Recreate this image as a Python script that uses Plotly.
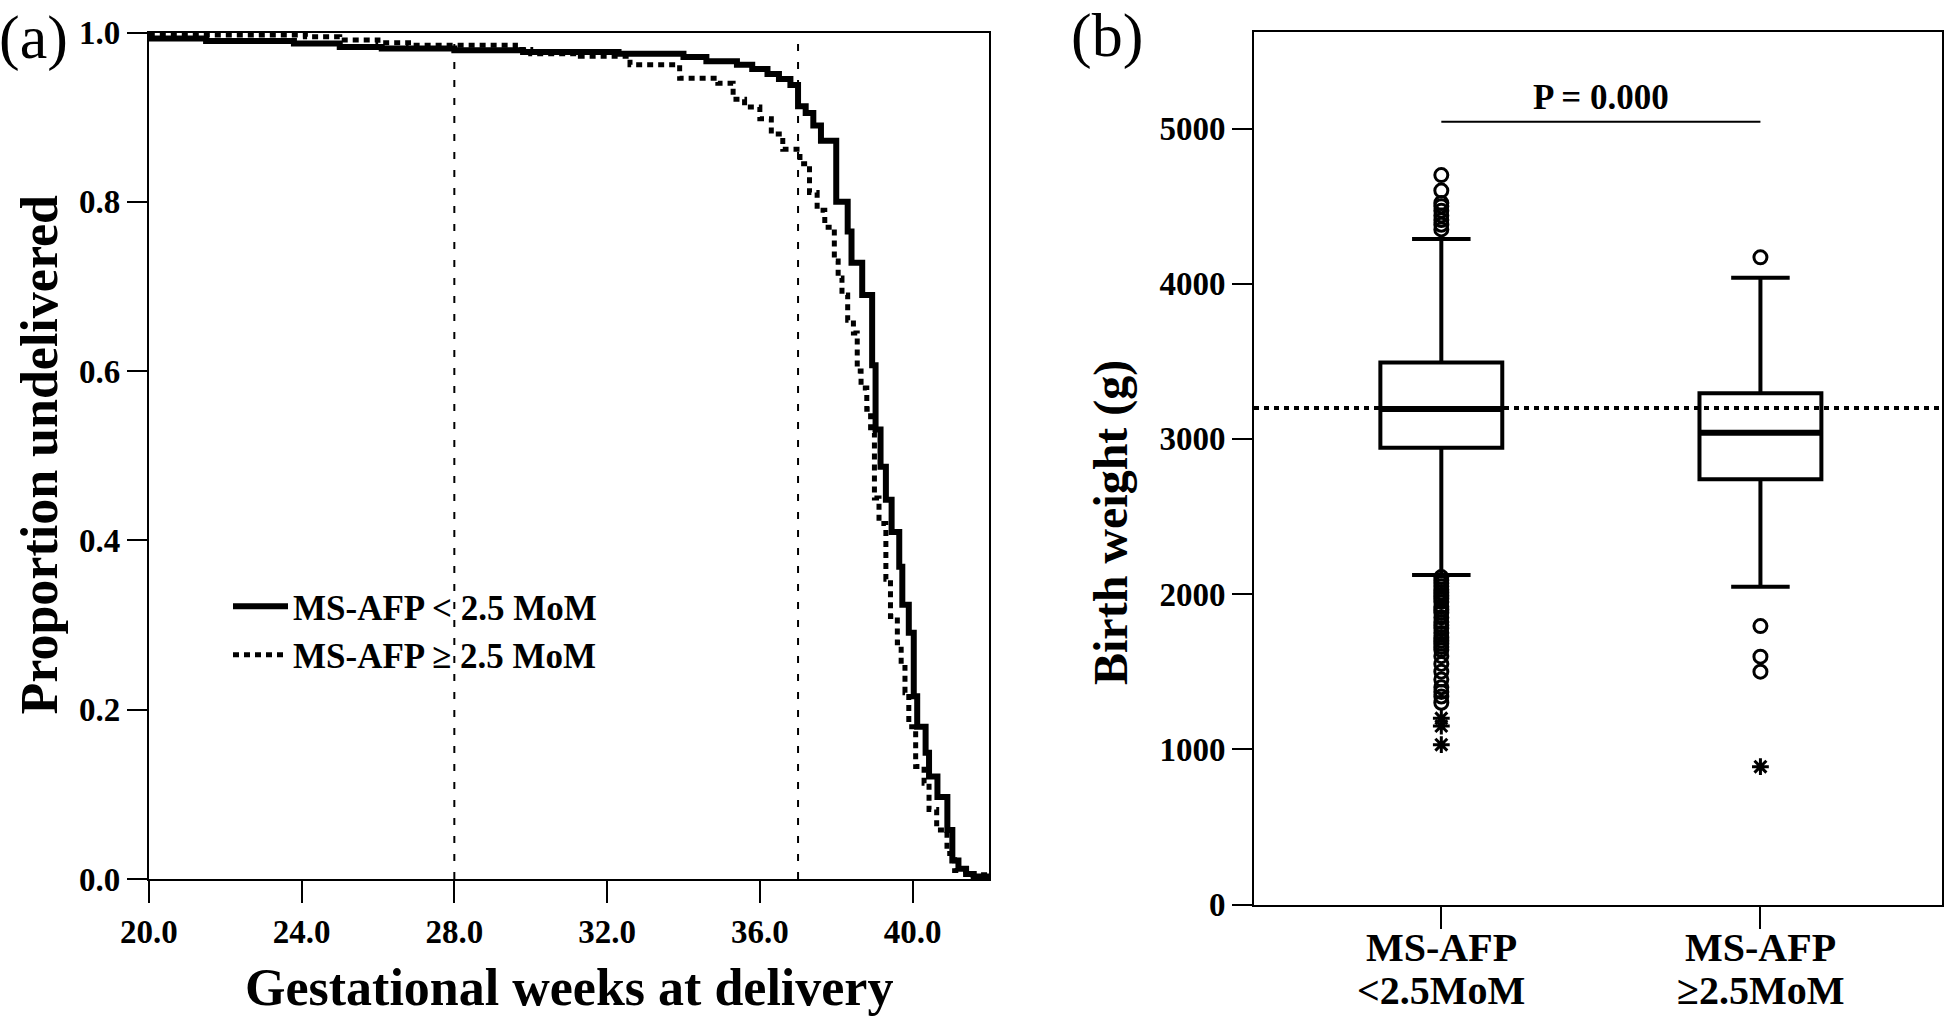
import plotly.graph_objects as go

# ---------------- Panel (a): Kaplan-Meier style curves ----------------
weeks_lt = [20.0, 21.5, 23.8, 25.0, 26.1, 28.0, 29.8, 32.3, 34.0, 34.6, 35.4, 35.8, 36.2, 36.5,
            36.8, 37.0, 37.2, 37.4, 37.6, 38.0, 38.3, 38.4, 38.68, 38.94, 39.03, 39.16, 39.3,
            39.45, 39.65, 39.73, 39.9, 40.03, 40.12, 40.34, 40.43, 40.65, 40.91, 41.04, 41.2,
            41.4, 41.6, 42.0]
surv_lt = [0.993, 0.990, 0.987, 0.983, 0.981, 0.979, 0.977, 0.975, 0.971, 0.966, 0.962, 0.957,
           0.951, 0.945, 0.938, 0.913, 0.905, 0.890, 0.872, 0.800, 0.765, 0.728, 0.690, 0.607,
           0.531, 0.487, 0.448, 0.410, 0.369, 0.324, 0.291, 0.216, 0.180, 0.149, 0.121, 0.097,
           0.058, 0.022, 0.012, 0.006, 0.003, 0.0]

weeks_ge = [20.0, 24.1, 25.0, 26.0, 26.8, 29.6, 30.0, 31.3, 32.6, 33.9, 34.9, 35.3, 35.6, 36.0,
            36.3, 36.6, 37.05, 37.3, 37.5, 37.7, 37.95, 38.05, 38.15, 38.3, 38.45, 38.55, 38.65,
            38.8, 38.9, 39.0, 39.12, 39.3, 39.42, 39.6, 39.7, 39.8, 39.9, 40.08, 40.3, 40.43,
            40.63, 40.9, 41.1, 41.4, 42.0]
surv_ge = [0.997, 0.995, 0.991, 0.988, 0.985, 0.980, 0.975, 0.972, 0.962, 0.946, 0.940, 0.921,
           0.912, 0.898, 0.880, 0.862, 0.845, 0.811, 0.790, 0.770, 0.730, 0.710, 0.690, 0.660,
           0.645, 0.600, 0.580, 0.555, 0.527, 0.450, 0.420, 0.354, 0.310, 0.279, 0.250, 0.220,
           0.180, 0.133, 0.113, 0.082, 0.058, 0.030, 0.010, 0.005, 0.0]

series_names = ["MS-AFP < 2.5 MoM", "MS-AFP ≥ 2.5 MoM"]
ref_weeks = [28, 37]
x_ticks_a = [20, 24, 28, 32, 36, 40]
y_ticks_a = [0.0, 0.2, 0.4, 0.6, 0.8, 1.0]

# ---------------- Panel (b): birth weight box plots ----------------
group_pos = [0, 1]
group_line1 = ["MS-AFP", "MS-AFP"]
group_line2 = ["&lt;2.5MoM", "≥2.5MoM"]
q1 = [2943, 2740]
median = [3193, 3040]
q3 = [3493, 3294]
lower_whisker = [2123, 2048]
upper_whisker = [4288, 4039]
circle_outliers = [
    [4700, 4600, 4520, 4500, 4470, 4440, 4410, 4380, 4350,
     2110, 2090, 2070, 2050, 2030, 2010, 1990, 1970, 1950, 1920, 1900, 1880, 1850, 1820,
     1800, 1780, 1750, 1720, 1700, 1680, 1660, 1640, 1600, 1550, 1500, 1450, 1400, 1370,
     1340, 1300],
    [4170, 1794, 1597, 1500],
]
star_outliers = [[1200, 1150, 1030], [888]]
ref_weight = 3200
y_ticks_b = [0, 1000, 2000, 3000, 4000, 5000]
p_label = "P = 0.000"
p_line_y = 5044
p_text_y = 5197

FONT = "Liberation Serif"
box_w = 0.382

fig = go.Figure()

# KM curves
fig.add_trace(go.Scatter(x=weeks_lt, y=surv_lt, mode="lines", name=series_names[0],
                         line=dict(shape="hv", color="black", width=6),
                         xaxis="x", yaxis="y"))
fig.add_trace(go.Scatter(x=weeks_ge, y=surv_ge, mode="lines", name=series_names[1],
                         line=dict(shape="hv", color="black", width=5, dash="6px,5px"),
                         xaxis="x", yaxis="y"))
for w in ref_weeks:
    fig.add_shape(type="line", xref="x", yref="y domain", x0=w, x1=w, y0=0, y1=1,
                  line=dict(color="black", width=2, dash="7px,11px"), layer="below")

# Box plots
fig.add_shape(type="line", xref="x2 domain", yref="y2", x0=0, x1=1, y0=ref_weight, y1=ref_weight,
              line=dict(color="black", width=4, dash="5px,5px"), layer="above")
for i, pos in enumerate(group_pos):
    fig.add_trace(go.Box(x=[pos], q1=[q1[i]], median=[median[i]], q3=[q3[i]],
                         lowerfence=[lower_whisker[i]], upperfence=[upper_whisker[i]],
                         width=box_w, whiskerwidth=0.48, boxpoints=False,
                         line=dict(color="black", width=4), fillcolor="rgba(255,255,255,0)",
                         showlegend=False, xaxis="x2", yaxis="y2"))
    fig.add_trace(go.Scatter(x=[pos - box_w / 2, pos + box_w / 2], y=[median[i], median[i]],
                             mode="lines", line=dict(color="black", width=6),
                             showlegend=False, xaxis="x2", yaxis="y2"))
    fig.add_trace(go.Scatter(x=[pos] * len(circle_outliers[i]), y=circle_outliers[i],
                             mode="markers",
                             marker=dict(symbol="circle-open", size=13, color="black",
                                         line=dict(width=3, color="black")),
                             showlegend=False, xaxis="x2", yaxis="y2"))
    fig.add_trace(go.Scatter(x=[pos] * len(star_outliers[i]), y=star_outliers[i],
                             mode="markers",
                             marker=dict(symbol="asterisk-open", size=14, color="black",
                                         line=dict(width=3, color="black")),
                             showlegend=False, xaxis="x2", yaxis="y2"))

fig.add_shape(type="line", xref="x2", yref="y2", x0=group_pos[0], x1=group_pos[1],
              y0=p_line_y, y1=p_line_y, line=dict(color="black", width=2))

tick_font = dict(family=FONT, size=33, color="black", weight="bold")
axis_common = dict(showline=True, mirror=True, linewidth=2, linecolor="black",
                   ticks="outside", tickwidth=2, tickcolor="black", showgrid=False,
                   zeroline=False, tickfont=tick_font, automargin=False)


def ann(text, x, y, size, xref="paper", yref="paper", bold=True, angle=0):
    f = dict(family=FONT, size=size, color="black")
    if bold:
        f["weight"] = "bold"
    return dict(text=text, x=x, y=y, xref=xref, yref=yref, showarrow=False,
                xanchor="center", yanchor="middle", textangle=angle, font=f)


annotations = [
    ann("(a)", 33 / 1946, 1 - 37 / 1016, 62, bold=False),
    ann("(b)", 1107 / 1946, 1 - 35 / 1016, 62, bold=False),
    ann("Gestational weeks at delivery", 569 / 1946, 1 - 987 / 1016, 52),
    ann("Proportion undelivered", 38.5 / 1946, 1 - 455 / 1016, 52, angle=-90),
    ann("Birth weight (g)", 1111 / 1946, 1 - 523 / 1016, 48, angle=-90),
    ann(p_label, (group_pos[0] + group_pos[1]) / 2, p_text_y, 35, xref="x2", yref="y2"),
]
for i, pos in enumerate(group_pos):
    annotations.append(ann(group_line1[i], pos, 1 - 947 / 1016, 40, xref="x2"))
    annotations.append(ann(group_line2[i], pos, 1 - 990 / 1016, 40, xref="x2"))

fig.update_layout(
    template="none",
    width=1946, height=1016, autosize=False,
    margin=dict(l=0, r=0, t=0, b=0, pad=0, autoexpand=False),
    paper_bgcolor="white", plot_bgcolor="white",
    xaxis=dict(domain=[148.8 / 1946, 989 / 1946], range=[20, 42], tickvals=x_ticks_a,
               tickformat=".1f", ticklen=22, anchor="y", **axis_common),
    yaxis=dict(domain=[1 - 879 / 1016, 1 - 32.5 / 1016], range=[0, 1], tickvals=y_ticks_a,
               tickformat=".1f", ticklen=20, anchor="x", **axis_common),
    xaxis2=dict(domain=[1254 / 1946, 1942 / 1946], range=[-0.587, 1.569], tickvals=group_pos,
                showticklabels=False, ticklen=22, anchor="y2", **axis_common),
    yaxis2=dict(domain=[1 - 904.5 / 1016, 1 - 31.7 / 1016], range=[0, 5624], tickvals=y_ticks_b,
                ticklen=20, anchor="x2", **axis_common),
    showlegend=True,
    legend=dict(x=228 / 1946, y=1 - 577 / 1016, xanchor="left", yanchor="top",
                bgcolor="rgba(0,0,0,0)", borderwidth=0, itemwidth=55,
                font=dict(family=FONT, size=35, color="black", weight="bold"),
                tracegroupgap=0),
    annotations=annotations,
)

fig.write_html("out.html", config={"displayModeBar": False},
               post_script="document.body.style.margin='0px';document.body.style.overflow='hidden';")
